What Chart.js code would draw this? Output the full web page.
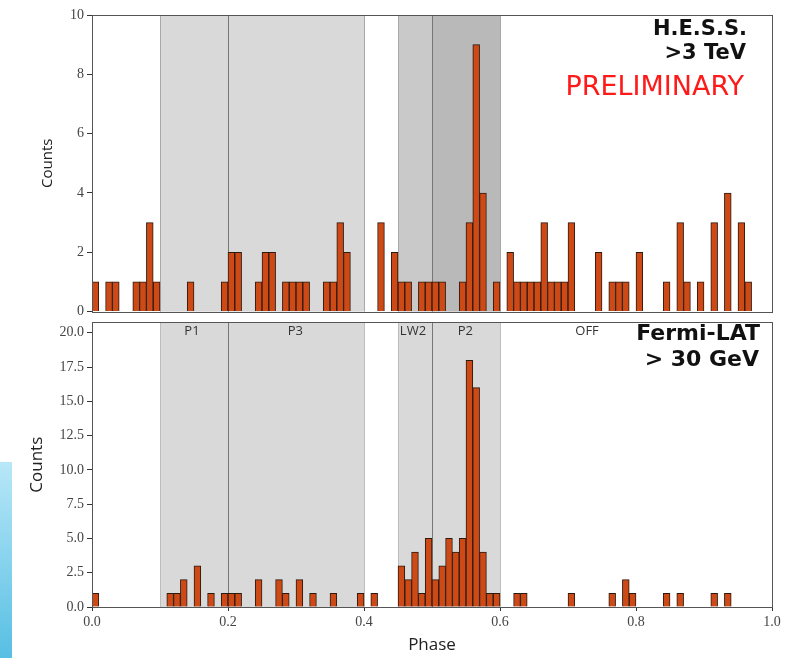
<!DOCTYPE html>
<html>
<head>
<meta charset="utf-8">
<script src="https://cdn.jsdelivr.net/npm/chart.js"></script>
<style>
  html, body { margin: 0; padding: 0; background: #fff; }
  body { width: 799px; height: 658px; position: relative; overflow: hidden; }
  #topWrap { position: absolute; left: 0; top: 0; width: 799px; height: 323px; }
  #bottomWrap { position: absolute; left: 0; top: 311px; width: 799px; height: 347px; }
  #strip { position: absolute; left: 0; top: 462px; width: 12px; height: 196px;
           background: linear-gradient(#b8e7f8, #57bfe3); }
</style>
</head>
<body>
<div id="strip"></div>
<div id="topWrap"><canvas id="hessChart"></canvas></div>
<div id="bottomWrap"><canvas id="fermiChart"></canvas></div>
<script>
// phase histogram, 100 bins of width 0.01
const binWidth = 0.01;

const hessCounts = [
  1, 0, 1, 1, 0, 0, 1, 1, 3, 1,
  0, 0, 0, 0, 1, 0, 0, 0, 0, 1,
  2, 2, 0, 0, 1, 2, 2, 0, 1, 1,
  1, 1, 0, 0, 1, 1, 3, 2, 0, 0,
  0, 0, 3, 0, 2, 1, 1, 0, 1, 1,
  1, 1, 0, 0, 1, 3, 9, 4, 0, 1,
  0, 2, 1, 1, 1, 1, 3, 1, 1, 1,
  3, 0, 0, 0, 2, 0, 1, 1, 1, 0,
  2, 0, 0, 0, 1, 0, 3, 1, 0, 1,
  0, 3, 0, 4, 0, 3, 1, 0, 0, 0
];

const fermiCounts = [
  1, 0, 0, 0, 0, 0, 0, 0, 0, 0,
  0, 1, 1, 2, 0, 3, 0, 1, 0, 1,
  1, 1, 0, 0, 2, 0, 0, 2, 1, 0,
  2, 0, 1, 0, 0, 1, 0, 0, 0, 1,
  0, 1, 0, 0, 0, 3, 2, 4, 1, 5,
  2, 3, 5, 4, 5, 18, 16, 4, 1, 1,
  0, 0, 1, 1, 0, 0, 0, 0, 0, 0,
  1, 0, 0, 0, 0, 0, 1, 0, 2, 1,
  0, 0, 0, 0, 1, 0, 1, 0, 0, 0,
  0, 1, 0, 1, 0, 0, 0, 0, 0, 0
];

const phaseTicks = [0, 0.2, 0.4, 0.6, 0.8, 1.0];
const hessTicks = [0, 2, 4, 6, 8, 10];
const fermiTicks = [0, 2.5, 5, 7.5, 10, 12.5, 15, 17.5, 20];

// phase regions
const regionNames = ['P1', 'P3', 'LW2', 'P2', 'OFF'];
const regionStarts = [0.1, 0.2, 0.45, 0.5, 0.6];
const regionEnds = [0.2, 0.4, 0.5, 0.6, 1.0];
const regionLabelPhase = [0.147, 0.299, 0.472, 0.549, 0.728];
const dividerPhases = [0.2, 0.5];
const edgePhases = [0.1, 0.4, 0.45, 0.6];

const barColor = '#cd4916';
const sansFont = "'Open Sans', 'DejaVu Sans', sans-serif";
const wideFont = "'DejaVu Sans', sans-serif";
const serifFont = "'Liberation Serif', 'DejaVu Serif', serif";

const toPoints = counts => counts.map((c, i) => ({ x: (i + 0.5) * binWidth, y: c }));
const isFilled = ctx => !!(ctx.raw && ctx.raw.y > 0);

const shadePlugin = {
  id: 'shade',
  beforeDatasetsDraw(chart, args, opts) {
    const { ctx, chartArea: a, scales: { x } } = chart;
    ctx.save();
    opts.fills.forEach((fill, i) => {
      if (!fill) return;
      const x0 = x.getPixelForValue(regionStarts[i]);
      const x1 = x.getPixelForValue(regionEnds[i]);
      ctx.fillStyle = fill;
      ctx.fillRect(x0, a.top, x1 - x0, a.bottom - a.top);
    });
    ctx.lineWidth = 1;
    const vline = (p, color) => {
      const px = Math.round(x.getPixelForValue(p)) + 0.5;
      ctx.strokeStyle = color;
      ctx.beginPath();
      ctx.moveTo(px, a.top);
      ctx.lineTo(px, a.bottom);
      ctx.stroke();
    };
    edgePhases.forEach(p => vline(p, opts.edgeColor));
    dividerPhases.forEach(p => vline(p, '#777777'));
    ctx.restore();
  },
  afterDraw(chart, args, opts) {
    const { ctx, chartArea: a, scales: { x } } = chart;
    ctx.save();
    // frame
    ctx.strokeStyle = '#555555';
    ctx.lineWidth = 1;
    ctx.strokeRect(Math.round(a.left) + 0.5, Math.round(a.top) + 0.5,
                   Math.round(a.right - a.left), Math.round(a.bottom - a.top));
    // notes
    (opts.notes || []).forEach(n => {
      ctx.font = n.font;
      ctx.fillStyle = n.color || '#111';
      ctx.textAlign = n.align || 'right';
      ctx.textBaseline = 'middle';
      const px = n.phase !== undefined ? x.getPixelForValue(n.phase) : n.x;
      ctx.fillText(n.text, px, n.y);
    });
    ctx.restore();
  }
};

function makeChart(canvasId, counts, opt) {
  return new Chart(document.getElementById(canvasId), {
    type: 'bar',
    data: {
      datasets: [{
        data: toPoints(counts),
        backgroundColor: barColor,
        borderColor: '#2b1a10',
        borderWidth: ctx => (isFilled(ctx) ? 1 : 0),
        inflateAmount: ctx => (isFilled(ctx) ? 0.33 : 0),
        borderSkipped: 'bottom',
        categoryPercentage: 1.0,
        barPercentage: 1.0
      }]
    },
    options: {
      responsive: true,
      maintainAspectRatio: false,
      animation: false,
      layout: { padding: opt.padding },
      scales: {
        x: {
          type: 'linear',
          min: 0,
          max: 1,
          offset: false,
          display: opt.showX,
          afterBuildTicks: s => { s.ticks = phaseTicks.map(v => ({ value: v })); },
          afterFit: s => { s.height = opt.xHeight; },
          grid: { display: true, drawOnChartArea: false, offset: false, tickLength: 4, color: '#333' },
          border: { display: false },
          ticks: {
            font: { family: serifFont, size: 14 },
            color: '#444',
            padding: 3,
            maxRotation: 0,
            callback: v => Number(v).toFixed(1)
          },
          title: {
            display: opt.showX,
            text: 'Phase',
            font: { family: sansFont, size: 17 },
            color: '#222',
            padding: { top: 0, bottom: 3 }
          }
        },
        y: {
          min: 0,
          max: opt.yMax,
          afterBuildTicks: s => { s.ticks = opt.yTicks.map(v => ({ value: v })); },
          afterFit: s => { s.width = 92; },
          grid: { display: true, drawOnChartArea: false, tickLength: 5, color: '#333' },
          border: { display: false },
          ticks: {
            font: { family: serifFont, size: 14 },
            color: '#444',
            padding: 3,
            callback: opt.yFormat
          },
          title: {
            display: true,
            text: 'Counts',
            font: { family: sansFont, size: opt.titleSize },
            color: '#222',
            padding: { top: opt.titlePad, bottom: 0 }
          }
        }
      },
      plugins: {
        legend: { display: false },
        tooltip: { enabled: false },
        shade: { fills: opt.fills, edgeColor: opt.edgeColor, notes: opt.notes }
      }
    },
    plugins: [shadePlugin]
  });
}

makeChart('hessChart', hessCounts, {
  padding: { top: 15, right: 27, bottom: 0, left: 0 },
  showX: false,
  xHeight: 0,
  yMax: 10,
  yTicks: hessTicks,
  yFormat: v => String(v),
  titleSize: 15,
  titlePad: 39,
  fills: ['#d9d9d9', '#d9d9d9', '#c9c9c9', '#b9b9b9', null],
  edgeColor: '#a8a8a8',
  notes: [
    { text: 'H.E.S.S.', x: 747, y: 30, font: `bold 21px ${wideFont}` },
    { text: '>3 TeV', x: 746, y: 54, font: `bold 21px ${wideFont}` },
    { text: 'PRELIMINARY', x: 744, y: 88, font: `27px ${wideFont}`, color: '#ff1a1a' }
  ]
});

makeChart('fermiChart', fermiCounts, {
  padding: { top: 1, right: 27, bottom: 0, left: 0 },
  showX: true,
  xHeight: 51,
  yMax: 20.76,
  yTicks: fermiTicks,
  yFormat: v => Number(v).toFixed(1),
  titleSize: 17,
  titlePad: 27,
  fills: ['#d9d9d9', '#d9d9d9', '#d9d9d9', '#d9d9d9', null],
  edgeColor: '#bdbdbd',
  notes: regionNames.map((name, i) => ({
    text: name, phase: regionLabelPhase[i], y: 20, align: 'center',
    font: `13px ${sansFont}`, color: '#333'
  })).concat([
    { text: 'Fermi-LAT', x: 760, y: 23, font: `bold 22px ${wideFont}` },
    { text: '> 30 GeV', x: 759, y: 49, font: `bold 22px ${wideFont}` }
  ])
});
</script>
</body>
</html>
